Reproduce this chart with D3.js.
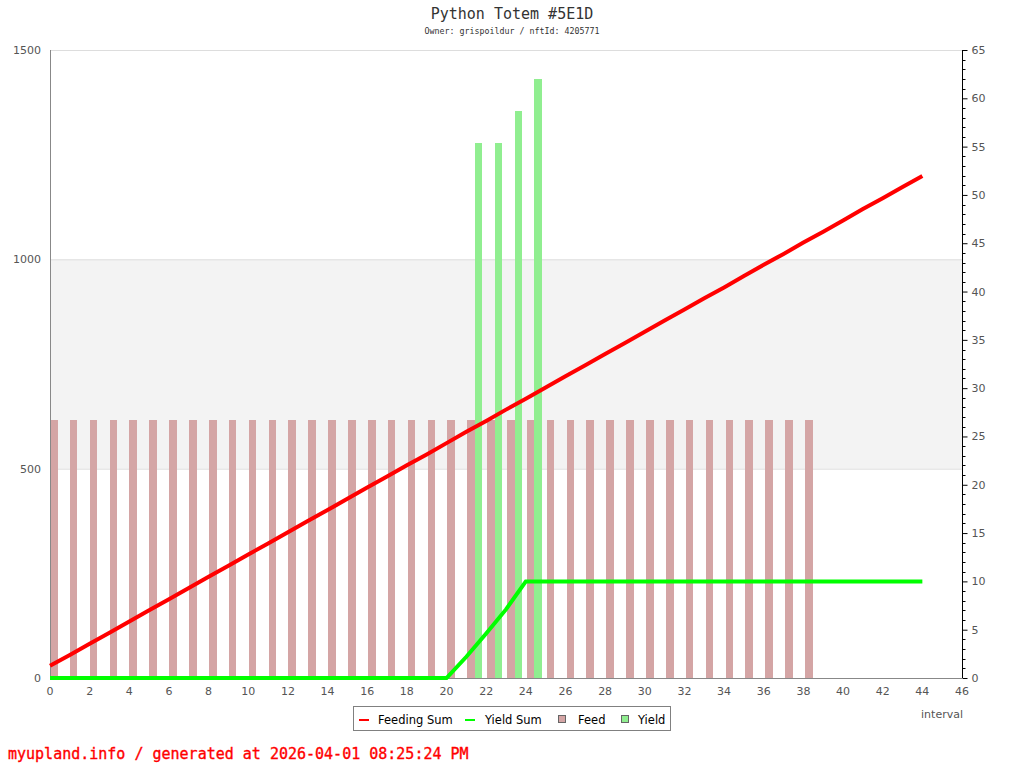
<!DOCTYPE html>
<html><head><meta charset="utf-8">
<script src="https://cdn.jsdelivr.net/npm/d3@7"></script>
<style>body{margin:0;background:#fff}svg{display:block}</style>
</head><body>
<svg id="c" width="1024" height="768"></svg>
<script>
const titleText = "Python Totem #5E1D";
const subtitleText = "Owner: grispoildur / nftId: 4205771";
const footerText = "myupland.info / generated at 2026-04-01 08:25:24 PM";
const xTicks = d3.range(0, 47, 2);
const leftTicks = [0, 500, 1000, 1500];
const rightTicks = [0,5,10,15,20,25,30,35,40,45,50,55,60,65];
const feedIdx = d3.range(0, 39);
const feedValues = [26.7,26.7,26.7,26.7,26.7,26.7,26.7,26.7,26.7,26.7,26.7,26.7,26.7,26.7,26.7,26.7,26.7,26.7,26.7,26.7,26.7,26.7,26.7,26.7,26.7,26.7,26.7,26.7,26.7,26.7,26.7,26.7,26.7,26.7,26.7,26.7,26.7,26.7,26.7];
const yieldIdx = [21, 22, 23, 24];
const yieldValues = [55.4, 55.4, 58.7, 62.0];
const feedingSum = [29,55,82,108,135,162,188,215,242,268,295,321,348,375,401,428,455,481,508,534,561,588,614,641,667,694,721,747,774,800,827,854,880,907,933,960,987,1013,1040,1066,1093,1120,1146,1173,1199];
const yieldSum = [0,0,0,0,0,0,0,0,0,0,0,0,0,0,0,0,0,0,0,0,0,2.2,4.6,7.1,10,10,10,10,10,10,10,10,10,10,10,10,10,10,10,10,10,10,10,10,10];
const legendItems = [
  {label:"Feeding Sum", type:"line", color:"#ff0000"},
  {label:"Yield Sum", type:"line", color:"#00ff00"},
  {label:"Feed", type:"box", color:"#d4a5a5"},
  {label:"Yield", type:"box", color:"#90ee90"}
];

const svg = d3.select("#c");
const L = 50, R = 962, T = 50, B = 678;
const x = d3.scaleLinear().domain([0, 46]).range([L, R]);
const xBar = d3.scaleLinear().domain([0, 46]).range([L, 964]);
const yL = d3.scaleLinear().domain([0, 1500]).range([B, T]);
const yR = d3.scaleLinear().domain([0, 65]).range([B, T]);
const barW = 7.6;
const axisColor = "#555";
const fontSans = "'DejaVu Sans', Verdana, sans-serif";
const fontMono = "'DejaVu Sans Mono', monospace";

// band
svg.append("rect").attr("x", L).attr("y", yL(1000)).attr("width", R - L).attr("height", yL(500) - yL(1000)).attr("fill", "#f3f3f3");
// gridlines
svg.append("g").selectAll("line").data([500, 1000, 1500]).join("line")
  .attr("x1", L).attr("x2", R).attr("y1", d => yL(d) + 0.5).attr("y2", d => yL(d) + 0.5)
  .attr("stroke", "#dddddd").attr("stroke-width", 1);

// feed bars
svg.append("g").selectAll("rect").data(feedIdx).join("rect")
  .attr("x", i => xBar(i)).attr("width", barW)
  .attr("y", (i, k) => yR(feedValues[k])).attr("height", (i, k) => B - yR(feedValues[k]))
  .attr("fill", "#d4a5a5").attr("shape-rendering", "crispEdges");
// yield bars
svg.append("g").selectAll("rect").data(yieldIdx).join("rect")
  .attr("x", i => xBar(i) + barW).attr("width", barW)
  .attr("y", (i, k) => yR(yieldValues[k])).attr("height", (i, k) => B - yR(yieldValues[k]))
  .attr("fill", "#90ee90").attr("shape-rendering", "crispEdges");

// axes lines
svg.append("line").attr("x1", L + 0.5).attr("x2", L + 0.5).attr("y1", T).attr("y2", B).attr("stroke", "#888");
svg.append("line").attr("x1", L).attr("x2", R).attr("y1", B + 0.5).attr("y2", B + 0.5).attr("stroke", "#888");

// lines
const lineL = d3.line().x((d, i) => x(i)).y(d => yL(d));
const lineR = d3.line().x((d, i) => x(i)).y(d => yR(d));
svg.append("path").datum(yieldSum).attr("d", lineR).attr("fill", "none").attr("stroke", "#00ff00").attr("stroke-width", 4);
svg.append("path").datum(feedingSum).attr("d", lineL).attr("fill", "none").attr("stroke", "#ff0000").attr("stroke-width", 4);

// right axis
const rAxis = d3.axisRight(yR).tickValues(rightTicks).tickSize(5).tickPadding(4).tickFormat(d3.format("d"));
const rg = svg.append("g").attr("transform", `translate(${R + 0.5},0)`).call(rAxis);
rg.select(".domain").attr("stroke", "#000").attr("d", `M0,${T}V${B}`);
rg.selectAll(".tick line").attr("stroke", "#000");
rg.selectAll("text").attr("fill", axisColor).style("font", `11px ${fontSans}`);
const minor = d3.range(0, 66).filter(v => v % 5 !== 0);
rg.append("g").selectAll("line").data(minor).join("line")
  .attr("x1", 0).attr("x2", 3).attr("y1", d => Math.round(yR(d)) + 0.5).attr("y2", d => Math.round(yR(d)) + 0.5).attr("stroke", "#000");

// left axis labels
svg.append("g").selectAll("text").data(leftTicks).join("text")
  .attr("x", 41).attr("y", d => yL(d) + 4).attr("text-anchor", "end")
  .attr("fill", axisColor).style("font", `11px ${fontSans}`).text(d => d);
// bottom labels
svg.append("g").selectAll("text").data(xTicks).join("text")
  .attr("x", d => x(d)).attr("y", 695).attr("text-anchor", "middle")
  .attr("fill", axisColor).style("font", `11px ${fontSans}`).text(d => d);
svg.append("text").attr("x", 963).attr("y", 718).attr("text-anchor", "end")
  .attr("fill", axisColor).style("font", `11px ${fontSans}`).text("interval");

// title
svg.append("text").attr("x", 512).attr("y", 19).attr("text-anchor", "middle")
  .attr("fill", "#333").style("font", `15px ${fontMono}`).text(titleText);
svg.append("text").attr("x", 512).attr("y", 34).attr("text-anchor", "middle")
  .attr("fill", "#333").style("font", `8.3px ${fontMono}`).text(subtitleText);

// legend
const lg = svg.append("g");
lg.append("rect").attr("x", 353.5).attr("y", 706.5).attr("width", 317).attr("height", 24)
  .attr("fill", "#fff").attr("stroke", "#808080");
const legX = [359, 465, 558, 621];
const textX = [378, 485, 578, 638];
legendItems.forEach((it, k) => {
  if (it.type === "line") {
    lg.append("line").attr("x1", legX[k]).attr("x2", legX[k] + 10).attr("y1", 720).attr("y2", 720)
      .attr("stroke", it.color).attr("stroke-width", 2);
  } else {
    lg.append("rect").attr("x", legX[k] + 0.5).attr("y", 715.5).attr("width", 7).attr("height", 7)
      .attr("fill", it.color).attr("stroke", "#666");
  }
  lg.append("text").attr("x", textX[k]).attr("y", 723.5).attr("fill", "#000")
    .style("font", `11.5px ${fontSans}`).text(it.label);
});

// footer
svg.append("text").attr("x", 8).attr("y", 759).attr("fill", "#ff0000")
  .attr("stroke", "#ff0000").attr("stroke-width", 0.35)
  .style("font", `15px ${fontMono}`).text(footerText);
</script>
</body></html>
